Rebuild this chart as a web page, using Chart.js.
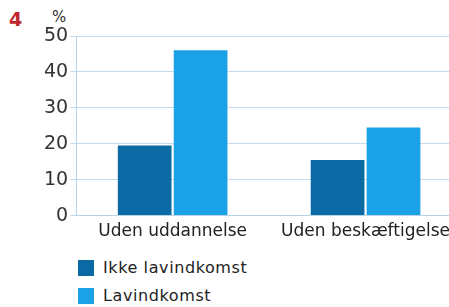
<!DOCTYPE html>
<html>
<head>
<meta charset="utf-8">
<script src="https://cdn.jsdelivr.net/npm/chart.js@4/dist/chart.umd.min.js"></script>
<style>
  html, body { margin: 0; padding: 0; background: #fff; overflow: hidden; }
  #wrap { position: relative; width: 462px; height: 307px; }
  #graph { position: absolute; left: 0; top: 0; }
  .num { position: absolute; left: 9px; top: 8px; color: #c0272d; font: bold 19px "DejaVu Sans", sans-serif; }
  .unit { position: absolute; left: 52px; top: 8px; color: #333; font: 15px "DejaVu Sans", sans-serif; }
  #legend { position: absolute; left: 78px; top: 255px; font: 16px "DejaVu Sans", sans-serif; color: #222; letter-spacing: 0.6px; }
  #legend div { height: 28px; line-height: 26px; }
  #legend span { display: inline-block; width: 16px; height: 16px; margin-right: 9px; vertical-align: -3px; }
</style>
</head>
<body>
<div id="wrap">
  <div class="num">4</div>
  <div class="unit">%</div>
  <canvas id="graph" width="462" height="248"></canvas>
  <div id="legend"></div>
</div>
<script>
const categories = ["Uden uddannelse", "Uden beskæftigelse"];
const seriesNames = ["Ikke lavindkomst", "Lavindkomst"];
const ikkeLavindkomst = [19.5, 15.5];
const lavindkomst = [46, 24.5];
const yTicks = [0, 10, 20, 30, 40, 50];

const colors = ['#0b6aa3', '#1aa1e6'];

let myChart;

function buildChart() {
    const ctx = document.getElementById('graph').getContext('2d');

    myChart = new Chart(ctx, {
        type: 'bar',
        data: {
            labels: categories,
            datasets: [{
                label: seriesNames[0],
                data: ikkeLavindkomst,
                backgroundColor: colors[0],
                barPercentage: 0.96,
                categoryPercentage: 0.58
            }, {
                label: seriesNames[1],
                data: lavindkomst,
                backgroundColor: colors[1],
                barPercentage: 0.96,
                categoryPercentage: 0.58
            }]
        },
        options: {
            responsive: false,
            animation: false,
            layout: { padding: { top: 36, left: 42, right: 0, bottom: 0 } },
            plugins: {
                legend: { display: false },
                tooltip: { enabled: false }
            },
            scales: {
                x: {
                    grid: { display: false, drawTicks: false },
                    border: { color: '#b9d3e6', width: 1 },
                    ticks: {
                        color: '#222',
                        padding: 6,
                        font: { family: 'DejaVu Sans', size: 17 }
                    }
                },
                y: {
                    min: 0,
                    max: 50,
                    afterBuildTicks: axis => { axis.ticks = yTicks.map(v => ({ value: v })); },
                    grid: { color: '#c4dbeb', lineWidth: 1, tickLength: 6 },
                    border: { color: '#b9d3e6', width: 1 },
                    ticks: {
                        color: '#333',
                        padding: 2,
                        font: { family: 'DejaVu Sans', size: 19 }
                    }
                }
            }
        }
    });
}

buildChart();

// legend in the page, stacked like the printed one
const legend = document.getElementById('legend');
seriesNames.forEach((name, i) => {
    const row = document.createElement('div');
    row.innerHTML = '<span style="background:' + colors[i] + '"></span>' + name;
    legend.appendChild(row);
});
</script>
</body>
</html>
